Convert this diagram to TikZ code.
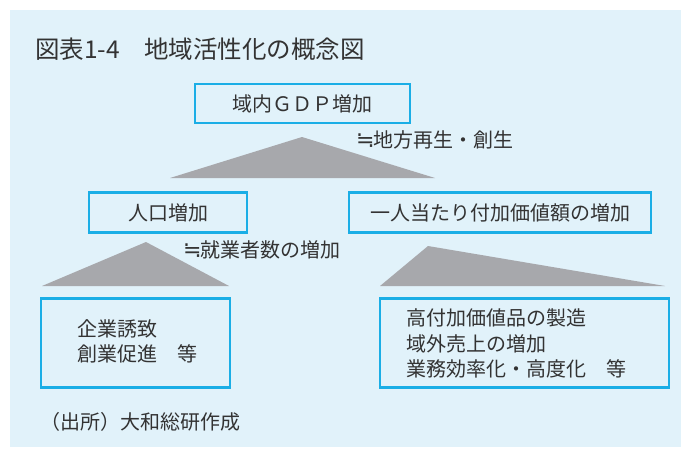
\documentclass[tikz,border=0pt]{standalone}
\usepackage{fontspec}
\setmainfont{Noto Sans CJK JP}
\newfontfamily\symfont{DejaVu Sans}
\definecolor{bgblue}{HTML}{E1F2FA}
\definecolor{boxblue}{HTML}{1AAEE6}
\definecolor{trigray}{HTML}{A7A8AC}
\definecolor{txt}{HTML}{333333}
\newcommand{\approxsym}{\makebox[0.85em][l]{\symfont\fontsize{22}{25}\selectfont ≒}}
\begin{document}
\begin{tikzpicture}[x=1pt,y=-1pt,
  box/.style={draw=boxblue,line width=2.4pt,fill=bgblue,inner sep=0pt,text=txt,font=\fontsize{20}{24}\selectfont},
  lbl/.style={text=txt,inner sep=0pt,font=\fontsize{20}{25.5}\selectfont},
  tri/.style={fill=trigray,draw=none}]
\useasboundingbox (0,0) rectangle (681,450);
\fill[white] (0,0) rectangle (681,450);
\fill[bgblue] (10,10) rectangle (681,447);
\node[lbl,anchor=west,font=\fontsize{24.5}{28}\selectfont] (title) at (35,49) {図表1-4　地域活性化の概念図};
% triangles
\fill[tri] (302,137) -- (435,178) -- (170,178) -- cycle;
\fill[tri] (146,242) -- (229,286) -- (42,286) -- cycle;
\fill[tri] (428,246) -- (665,286) -- (380,286) -- cycle;
% boxes
\node[box,minimum width=215pt,minimum height=39pt] (gdp) at (302.5,103.5) {域内ＧＤＰ増加};
\node[box,minimum width=158pt,minimum height=40pt] (pop) at (168,212.5) {人口増加};
\node[box,minimum width=302pt,minimum height=40pt] (val) at (500,212.5) {一人当たり付加価値額の増加};
\node[box,minimum width=189pt,minimum height=89pt] (bl) at (135.5,343) {};
\node[box,minimum width=289pt,minimum height=89pt] (br) at (524.5,343) {};
\node[lbl,anchor=west,align=left] (bltxt) at (77,341.5) {企業誘致\\創業促進　等};
\node[lbl,anchor=west,align=left] (brtxt) at (406,343.5) {高付加価値品の製造\\域外売上の増加\\業務効率化・高度化　等};
% labels
\node[lbl,anchor=west] (l1) at (356,140) {\approxsym 地方再生・創生};
\node[lbl,anchor=west] (l2) at (183,250) {\approxsym 就業者数の増加};
\node[lbl,anchor=west] (src) at (40,422) {（出所）大和総研作成};
\end{tikzpicture}
\end{document}
